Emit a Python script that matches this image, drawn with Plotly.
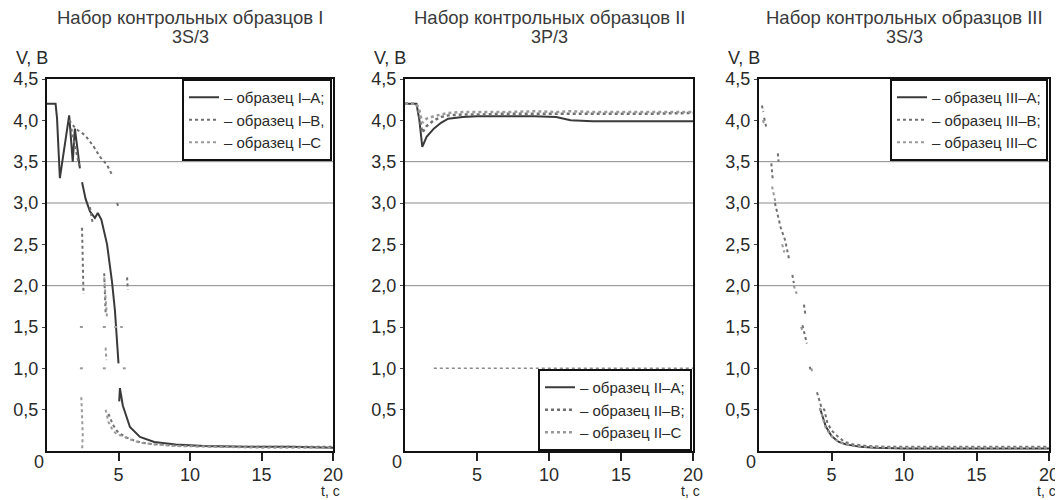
import plotly.graph_objects as go

# ---------------- data ----------------
panel_title_line1 = ["Набор контрольных образцов I",
                     "Набор контрольных образцов II",
                     "Набор контрольных образцов III"]
panel_title_line2 = ["3S/3", "3P/3", "3S/3"]
y_tick_vals = [0.5, 1.0, 1.5, 2.0, 2.5, 3.0, 3.5, 4.0, 4.5]
y_tick_text = ["0,5", "1,0", "1,5", "2,0", "2,5", "3,0", "3,5", "4,0", "4,5"]
x_tick_vals = [5, 10, 15, 20]
x_tick_text = ["5", "10", "15", "20"]
grid_levels = [2.0, 3.0, 3.5]
dotted_level_p2 = 1.0

# Panel I
t_1A = [0, 0.6, 0.7, 0.9, 1.55, 1.8, 1.95, 2.3, None,
        2.45, 2.7, 3.0, 3.35, 3.55, 3.8, 4.2, 4.55, 4.75, 4.9, 5.0, None,
        5.05, 5.1, 5.3, 5.8, 6.5, 7.5, 9, 11, 14, 17, 20]
v_1A = [4.2, 4.2, 4.03, 3.3, 4.06, 3.5, 3.9, 3.42, None,
        3.25, 3.05, 2.9, 2.82, 2.88, 2.8, 2.5, 2.04, 1.7, 1.34, 1.06, None,
        0.6, 0.76, 0.55, 0.29, 0.17, 0.11, 0.08, 0.06, 0.05, 0.05, 0.04]
t_1B = [1.55, 2.0, 2.66, 3.2, 3.7, 4.2, 4.55, None,
        1.7, 1.9, 2.1, 2.25, None,
        2.45, 2.5, 2.55, None, 3.0, 3.2, None, 4.0, 4.05, 4.1, None,
        4.9, 5.0, None, 5.6, 5.65, None,
        4.3, 4.6, 4.9, 5.2, 5.6, 6.2, 7, 8.5, 10, 13, 16, 20]
v_1B = [4.0, 3.9, 3.82, 3.7, 3.56, 3.46, 3.34, None,
        3.9, 3.75, 3.6, 3.45, None,
        2.7, 2.3, 1.9, None, 2.95, 2.75, None, 2.15, 1.9, 1.67, None,
        3.0, 2.95, None, 2.1, 1.95, None,
        0.45, 0.32, 0.24, 0.2, 0.16, 0.12, 0.09, 0.07, 0.06, 0.05, 0.05, 0.05]
t_1C = [2.4, 2.45, 2.5, 2.45, None, 2.3, 2.6, None, 2.3, 2.6, None,
        4.0, 4.1, 4.2, None, 4.1, 4.15, None, 3.9, 4.3, None, 3.9, 4.3, None,
        4.7, 5.0, 5.3, None, 5.3, 5.7, None,
        4.1, 4.3, 4.6, 4.9, 5.3, 5.8, 6.5, 7.5, 9, 12, 15, 18, 20]
v_1C = [0.65, 0.4, 0.2, 0.0, None, 1.5, 1.5, None, 1.0, 1.0, None,
        2.1, 1.8, 1.6, None, 1.25, 1.1, None, 1.5, 1.5, None, 1.0, 1.0, None,
        1.5, 1.5, 1.5, None, 1.0, 1.0, None,
        0.5, 0.35, 0.25, 0.2, 0.18, 0.14, 0.1, 0.08, 0.06, 0.05, 0.04, 0.04, 0.04]

# Panel II
t_2 = [0, 0.8, 1.0, 1.2, 1.5, 2.0, 2.5, 3.0, 4.0, 5.0, 7.0, 9.0, 10.5, 11.5, 13, 15, 17, 20]
v_2A = [4.2, 4.2, 4.0, 3.68, 3.8, 3.9, 3.97, 4.02, 4.04, 4.05, 4.05, 4.05, 4.04, 4.0, 3.99, 3.99, 3.99, 3.99]
v_2B = [4.2, 4.2, 4.05, 3.85, 3.93, 4.0, 4.04, 4.06, 4.07, 4.07, 4.08, 4.08, 4.08, 4.08, 4.08, 4.08, 4.08, 4.09]
v_2C = [4.2, 4.2, 4.12, 3.97, 4.02, 4.05, 4.07, 4.09, 4.1, 4.1, 4.1, 4.11, 4.1, 4.11, 4.1, 4.1, 4.1, 4.1]

# Panel III
t_3A = [4.2, 4.4, 4.6, 5.0, 5.5, 6.0, 7.0, 8.0, 10, 12, 15, 18, 20]
v_3A = [0.52, 0.4, 0.3, 0.18, 0.11, 0.08, 0.05, 0.04, 0.03, 0.03, 0.03, 0.03, 0.03]
t_3B = [0.2, 0.3, None, 0.35, 0.5, None, 0.85, 0.9, 0.95, None, 1.3, 1.35, None,
        1.1, 1.3, 1.5, 1.8, 2.0, 2.1, None, 2.3, 2.4, None, 3.1, 3.2, None,
        3.0, 3.15, 3.3, None, 3.5, 3.6, None, 4.0, 4.3, 4.5, 4.7, 5.0, 5.4, 5.9, 6.5, 7.5, 9, 12, 15, 18, 20]
v_3B = [4.18, 4.1, None, 4.03, 3.92, None, 3.48, 3.37, 3.28, None, 3.6, 3.5, None,
        3.0, 2.85, 2.7, 2.55, 2.4, 2.3, None, 2.13, 2.03, None, 1.77, 1.65, None,
        1.52, 1.4, 1.3, None, 1.02, 0.95, None, 0.71, 0.53, 0.5, 0.35, 0.25, 0.18, 0.11, 0.08, 0.06, 0.05, 0.05, 0.05, 0.05, 0.05]
t_3C = [0.25, 0.4, None, 0.9, 1.0, 1.15, None, 1.6, 1.75, None, 2.4, 2.6, None,
        2.9, 3.0, None, 3.6, 3.7, None, 4.2, 4.4, 4.6, 4.9, 5.3, 5.8, 6.5, 7.5, 9, 12, 16, 20]
v_3C = [4.0, 3.95, None, 3.2, 3.1, 3.0, None, 2.5, 2.4, None, 2.0, 1.9, None,
        1.5, 1.45, None, 1.0, 0.95, None, 0.52, 0.4, 0.28, 0.2, 0.13, 0.09, 0.06, 0.05, 0.04, 0.04, 0.04, 0.04]

legend_names = [["– образец I–A;", "– образец I–B,", "– образец I–C"],
                ["– образец II–A;", "– образец II–B;", "– образец II–C"],
                ["– образец III–A;", "– образец III–B;", "– образец III–C"]]

# ---------------- layout helpers ----------------
# target positions are in screen pixels; the page body adds an 8 px offset
OFF = 8
W, H = 1063 - OFF, 500 - OFF


def fx(px):
    return (px - OFF) / W


def fy(py):
    return 1 - (py - OFF) / H


px_left = [47, 405, 759]
px_right = [333, 693, 1049]
px_top, px_bottom = 79, 451
FONT = "Liberation Sans, Arial, sans-serif"
col_A, col_B, col_C = "#3a3a3a", "#707070", "#9a9a9a"
TXT = "#2a2a2a"

fig = go.Figure()
series = [
    [(t_1A, v_1A), (t_1B, v_1B), (t_1C, v_1C)],
    [(t_2, v_2A), (t_2, v_2B), (t_2, v_2C)],
    [(t_3A, v_3A), (t_3B, v_3B), (t_3C, v_3C)],
]
styles = [dict(color=col_A, width=2, dash="solid"),
          dict(color=col_B, width=2, dash="dot"),
          dict(color=col_C, width=2, dash="dot")]

for p in range(3):
    ax = "" if p == 0 else str(p + 1)
    leg = "legend" if p == 0 else "legend" + str(p + 1)
    for k, (tt, vv) in enumerate(series[p]):
        st = dict(styles[k])
        if p == 1 and k > 0:
            st["width"] = 2.5
        fig.add_trace(go.Scatter(x=tt, y=vv, mode="lines", line=st,
                                 name=legend_names[p][k], xaxis="x" + ax, yaxis="y" + ax,
                                 legend=leg, connectgaps=False, hoverinfo="x+y"))

layout = dict(template="none", width=W, height=H,
              margin=dict(l=0, r=0, t=0, b=0, pad=0, autoexpand=False),
              paper_bgcolor="white", plot_bgcolor="white",
              font=dict(family=FONT, size=18, color=TXT))

for p in range(3):
    ax = "" if p == 0 else str(p + 1)
    dom_x = [fx(px_left[p]), fx(px_right[p])]
    dom_y = [fy(px_bottom), fy(px_top)]
    layout["xaxis" + ax] = dict(domain=dom_x, range=[0, 20], tickvals=x_tick_vals, ticktext=x_tick_text,
                                ticks="outside", ticklen=8, tickwidth=2, tickcolor="#222",
                                ticklabelstandoff=-2, automargin=False,
                                showline=True, linewidth=2, linecolor="#111", mirror=True,
                                showgrid=False, zeroline=False, anchor="y" + ax,
                                tickfont=dict(size=18, color=TXT), fixedrange=True)
    layout["yaxis" + ax] = dict(domain=dom_y, range=[0, 4.5], tickvals=y_tick_vals, ticktext=y_tick_text,
                                ticks="outside", ticklen=3, tickwidth=1, tickcolor="#444",
                                automargin=False,
                                showline=True, linewidth=2, linecolor="#111", mirror=True,
                                showgrid=False, zeroline=False, anchor="x" + ax,
                                tickfont=dict(size=18, color=TXT), fixedrange=True)

legend_common = dict(bgcolor="white", bordercolor="#111", borderwidth=2,
                     font=dict(family=FONT, size=15, color=TXT),
                     itemwidth=30, tracegroupgap=0, traceorder="normal")
layout["legend"] = dict(x=fx(px_right[0] - 1), y=fy(px_top), xanchor="right", yanchor="top", **legend_common)
layout["legend2"] = dict(x=fx(px_right[1] - 1), y=fy(px_bottom), xanchor="right", yanchor="bottom", **legend_common)
layout["legend3"] = dict(x=fx(px_right[2] - 1), y=fy(px_top), xanchor="right", yanchor="top", **legend_common)

shapes = []
annotations = []
for p in range(3):
    ax = "" if p == 0 else str(p + 1)
    for g in grid_levels:
        shapes.append(dict(type="line", xref="x" + ax, yref="y" + ax, x0=0, x1=20, y0=g, y1=g,
                           line=dict(color="#8a8a8a", width=1), layer="below"))
    cx = fx((px_left[p] + px_right[p]) / 2)
    annotations.append(dict(text=panel_title_line1[p], x=cx, y=fy(18), xref="paper", yref="paper",
                            xanchor="center", yanchor="middle", showarrow=False,
                            font=dict(size=18.5, color="#3a3a3a")))
    annotations.append(dict(text=panel_title_line2[p], x=cx, y=fy(37), xref="paper", yref="paper",
                            xanchor="center", yanchor="middle", showarrow=False,
                            font=dict(size=18, color="#3a3a3a")))
    annotations.append(dict(text="V, B", x=fx(px_left[p] - 33), y=fy(58), xref="paper", yref="paper",
                            xanchor="left", yanchor="middle", showarrow=False,
                            font=dict(size=18, color=TXT)))
    annotations.append(dict(text="0", x=fx(px_left[p] - 8), y=fy(462), xref="paper", yref="paper",
                            xanchor="center", yanchor="middle", showarrow=False,
                            font=dict(size=18, color=TXT)))
    annotations.append(dict(text="t, c", x=fx(px_right[p] - 3), y=fy(491), xref="paper", yref="paper",
                            xanchor="center", yanchor="middle", showarrow=False,
                            font=dict(size=14, color=TXT)))
shapes.append(dict(type="line", xref="x2", yref="y2", x0=2, x1=20, y0=dotted_level_p2, y1=dotted_level_p2,
                   line=dict(color="#8a8a8a", width=1.5, dash="dot"), layer="below"))
layout["shapes"] = shapes
layout["annotations"] = annotations

fig.update_layout(**layout)
fig.write_html("out.html")
